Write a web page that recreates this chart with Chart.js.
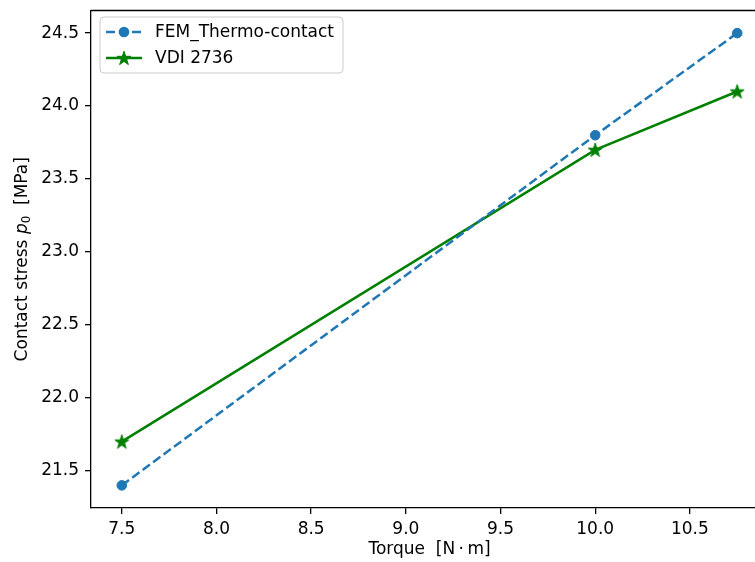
<!DOCTYPE html>
<html>
<head>
<meta charset="utf-8">
<script src="https://cdn.jsdelivr.net/npm/chart.js@4/dist/chart.umd.min.js"></script>
<style>
html,body{margin:0;padding:0;background:#fff;overflow:hidden;width:755px;height:562px;}
#wrap{position:absolute;left:0;top:0;width:800px;height:562px;}
</style>
</head>
<body>
<div id="wrap"><canvas id="c" width="800" height="562" style="width:800px;height:562px"></canvas></div>
<script>
const torque = [7.5, 10.0, 10.75];
const femValues = [21.4, 23.8, 24.5];
const vdiValues = [21.7, 23.7, 24.1];
const xTickValues = [7.5, 8.0, 8.5, 9.0, 9.5, 10.0, 10.5];
const yTickValues = [21.5, 22.0, 22.5, 23.0, 23.5, 24.0, 24.5];
const seriesNames = ['FEM_Thermo-contact', 'VDI 2736'];
const xTitle = 'Torque  [N\u2009\u00B7\u2009m]';

const FONT = 'DejaVu Sans';
const FS = 17;
const BLUE = '#1f77b4';
const GREEN = '#008000';

function makeStar(color, size) {
  const c = document.createElement('canvas');
  c.width = size; c.height = size;
  const g = c.getContext('2d');
  const cx = size / 2, cy = size / 2 + 0.6;
  const R = size / 2 - 0.6, r = R * 0.382;
  g.beginPath();
  for (let i = 0; i < 10; i++) {
    const rad = i % 2 === 0 ? R : r;
    const a = -Math.PI / 2 + i * Math.PI / 5;
    const px = cx + rad * Math.cos(a), py = cy + rad * Math.sin(a);
    if (i === 0) g.moveTo(px, py); else g.lineTo(px, py);
  }
  g.closePath();
  g.fillStyle = color; g.fill();
  g.lineWidth = 1; g.strokeStyle = color; g.lineJoin = 'miter'; g.stroke();
  return c;
}
const star = makeStar(GREEN, 16);

const frame = {
  id: 'frame',
  afterDraw(chart) {
    const ctx = chart.ctx, a = chart.chartArea;
    ctx.save();
    ctx.strokeStyle = '#000'; ctx.lineWidth = 1.3;
    ctx.beginPath();
    ctx.moveTo(a.left, a.top); ctx.lineTo(a.right + 5, a.top);
    ctx.stroke();

    const lx = 100, ly = 17, lw = 243, lh = 56, rr = 4;
    ctx.beginPath();
    ctx.moveTo(lx + rr, ly);
    ctx.arcTo(lx + lw, ly, lx + lw, ly + lh, rr);
    ctx.arcTo(lx + lw, ly + lh, lx, ly + lh, rr);
    ctx.arcTo(lx, ly + lh, lx, ly, rr);
    ctx.arcTo(lx, ly, lx + lw, ly, rr);
    ctx.closePath();
    ctx.fillStyle = 'rgba(255,255,255,0.8)'; ctx.fill();
    ctx.strokeStyle = '#cccccc'; ctx.lineWidth = 1; ctx.stroke();

    const rows = [32, 58];
    ctx.strokeStyle = BLUE; ctx.lineWidth = 2.5; ctx.setLineDash([9, 4]);
    ctx.beginPath(); ctx.moveTo(106, rows[0]); ctx.lineTo(142, rows[0]); ctx.stroke();
    ctx.setLineDash([]);
    ctx.fillStyle = BLUE; ctx.beginPath(); ctx.arc(124, rows[0], 5.3, 0, Math.PI * 2); ctx.fill();
    ctx.strokeStyle = GREEN; ctx.lineWidth = 2.5;
    ctx.beginPath(); ctx.moveTo(106, rows[1]); ctx.lineTo(142, rows[1]); ctx.stroke();
    ctx.drawImage(star, 124 - 8, rows[1] - 8, 16, 16);

    ctx.fillStyle = '#000'; ctx.font = FS + 'px "' + FONT + '"';
    ctx.textBaseline = 'middle'; ctx.textAlign = 'left';
    ctx.fillText(seriesNames[0], 155, rows[0] + 1);
    ctx.fillText(seriesNames[1], 155, rows[1] + 1);

    ctx.textAlign = 'center';
    ctx.fillText(xTitle, (a.left + a.right) / 2, 550);

    ctx.save();
    ctx.translate(23, (a.top + a.bottom) / 2);
    ctx.rotate(-Math.PI / 2);
    ctx.textAlign = 'left';
    const f1 = FS + 'px "' + FONT + '"';
    const fI = 'italic ' + FS + 'px "' + FONT + '"';
    const fS = (FS * 0.7) + 'px "' + FONT + '"';
    const parts = [['Contact stress ', f1, 0], ['p', fI, 0], ['0', fS, 4], ['  [MPa]', f1, 0]];
    let total = 0;
    parts.forEach(p => { ctx.font = p[1]; total += ctx.measureText(p[0]).width; });
    let x = -total / 2;
    parts.forEach(p => { ctx.font = p[1]; ctx.fillText(p[0], x, p[2]); x += ctx.measureText(p[0]).width; });
    ctx.restore();
    ctx.restore();
  }
};

new Chart(document.getElementById('c'), {
  type: 'line',
  data: {
    datasets: [
      {
        label: seriesNames[0],
        data: torque.map((t, i) => ({ x: t, y: femValues[i] })),
        borderColor: BLUE, backgroundColor: BLUE,
        borderWidth: 2.5, borderDash: [9, 4],
        pointStyle: 'circle', pointRadius: 4.8, pointBorderWidth: 1,
        pointBackgroundColor: BLUE, pointBorderColor: BLUE,
        tension: 0, fill: false
      },
      {
        label: seriesNames[1],
        data: torque.map((t, i) => ({ x: t, y: vdiValues[i] })),
        borderColor: GREEN, backgroundColor: GREEN,
        borderWidth: 2.5,
        pointStyle: star, pointRadius: 8,
        tension: 0, fill: false
      }
    ]
  },
  options: {
    responsive: false,
    animation: false,
    devicePixelRatio: 1,
    layout: { padding: { top: 9, left: 0, right: 32, bottom: 0 } },
    plugins: { legend: { display: false }, tooltip: { enabled: false }, title: { display: false } },
    scales: {
      x: {
        type: 'linear', min: 7.3375, max: 10.9125,
        afterBuildTicks: s => { s.ticks = xTickValues.map(v => ({ value: v })); },
        afterFit: s => { s.height = 54; s.paddingLeft = 0; s.paddingRight = 0; },
        grid: { drawOnChartArea: false, drawTicks: true, tickLength: 6, color: '#000', lineWidth: 1.3 },
        border: { display: true, color: '#000', width: 1.3 },
        ticks: { color: '#000', padding: 5, maxRotation: 0, autoSkip: false,
                 font: { family: FONT, size: FS }, callback: v => Number(v).toFixed(1) }
      },
      y: {
        type: 'linear', min: 21.245, max: 24.655,
        afterBuildTicks: s => { s.ticks = yTickValues.map(v => ({ value: v })); },
        afterFit: s => { s.width = 91; s.paddingTop = 0; s.paddingBottom = 0; },
        grid: { drawOnChartArea: false, drawTicks: true, tickLength: 6, color: '#000', lineWidth: 1.3 },
        border: { display: true, color: '#000', width: 1.3 },
        ticks: { color: '#000', padding: 6, autoSkip: false,
                 font: { family: FONT, size: FS }, callback: v => Number(v).toFixed(1) }
      }
    }
  },
  plugins: [frame]
});
</script>
</body>
</html>
